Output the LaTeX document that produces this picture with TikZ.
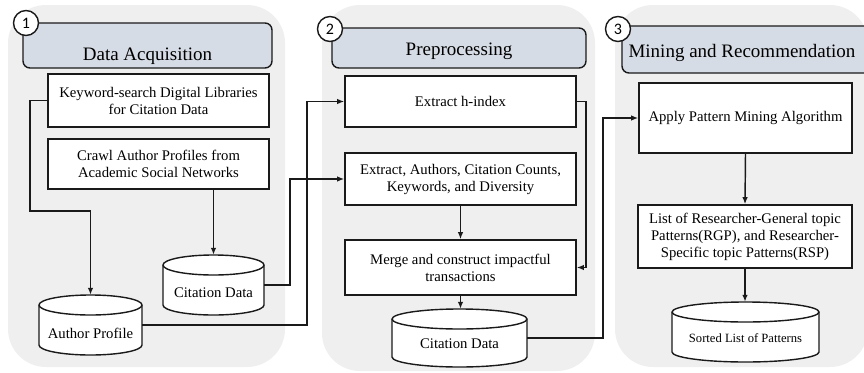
\documentclass[tikz,border=0pt]{standalone}
\usepackage{fontspec}
\setmainfont{Liberation Serif}
\newfontfamily\numfont{Carlito}
\usetikzlibrary{arrows.meta}
\definecolor{panelgray}{HTML}{EFEFEF}
\definecolor{headfill}{HTML}{D6DCE5}
\definecolor{edgecol}{HTML}{1A1A1A}
\newcommand{\dbcyl}[5]{% name, x1, x2, ytop, ybot
  \pgfmathsetmacro{\cylrx}{(#3-#2)/2}%
  \pgfmathsetmacro{\cylw}{#3-#2}%
  \pgfmathsetmacro{\cylh}{#5-#4}%
  \path[cylline] (#2,#4+10) -- (#2,#5-10) arc[start angle=180,end angle=360,x radius=\cylrx pt,y radius=10pt] -- (#3,#4+10) arc[start angle=0,end angle=180,x radius=\cylrx pt,y radius=10pt] -- cycle;
  \draw[draw=edgecol,line width=1.4pt] (#2,#4+10) arc[start angle=180,end angle=360,x radius=\cylrx pt,y radius=10pt];
  \node[inner sep=0pt,minimum width=\cylw pt,minimum height=\cylh pt] (#1) at ({(#2+#3)/2},{(#4+#5)/2}) {};
}
\begin{document}
\begin{tikzpicture}[x=1pt,y=-1pt,
  panel/.style={fill=panelgray,draw=none,rounded corners=38pt},
  header/.style={fill=headfill,draw=edgecol,line width=1.4pt,rounded corners=7pt},
  numcirc/.style={circle,fill=white,draw=edgecol,line width=1.4pt,minimum size=25pt,inner sep=0pt,font=\numfont\fontsize{16}{16}\selectfont},
  titletext/.style={font=\fontsize{19}{22}\selectfont,anchor=base,inner sep=0pt},
  procbox/.style={draw=edgecol,fill=white,line width=1.6pt,inner sep=0pt,font=\fontsize{14.7}{17}\selectfont,align=center},
  cylline/.style={draw=edgecol,fill=white,line width=1.4pt},
  cyltext/.style={font=\fontsize{14.7}{17}\selectfont,inner sep=0pt},
  conn/.style={draw=edgecol,line width=1.45pt,-{Latex[length=7pt,width=5.5pt]}},
]
\useasboundingbox (0,0) rectangle (864,372);
\clip (0,0) rectangle (864,372);

% panels
\path[panel] (8,5) rectangle (285,367);
\path[panel] (322,5) rectangle (595,371);
\path[panel] (615,5) rectangle (868,367);

% headers
\path[header] (23,23) rectangle (272,68);
\path[header] (332,28) rectangle (586,68);
\path[header] (622,26) rectangle (890,73);
\node[titletext] (t1) at (147.5,60) {Data Acquisition};
\node[titletext] (t2) at (459,55) {Preprocessing};
\node[titletext] (t3) at (742,57) {Mining and Recommendation};
\node[numcirc] (n1) at (26,23) {1};
\node[numcirc] (n2) at (330,29) {2};
\node[numcirc] (n3) at (618,29) {3};

% panel 1
\node[procbox,minimum width=221pt,minimum height=53pt] (A) at (158.5,100.5) {Keyword-search Digital Libraries\\for Citation Data};
\node[procbox,minimum width=221pt,minimum height=50pt] (B) at (158.5,164) {Crawl Author Profiles from\\Academic Social Networks};
\dbcyl{cylA}{163}{264}{255}{315}
\node[cyltext] (cylAt) at (213.5,293) {Citation Data};
\dbcyl{cylB}{39}{142}{295}{355}
\node[cyltext] (cylBt) at (90.5,333) {Author Profile};

% panel 2
\node[procbox,minimum width=231pt,minimum height=51pt] (C) at (460.5,101.5) {Extract h-index};
\node[procbox,minimum width=231pt,minimum height=52pt] (D) at (460.5,179) {Extract, Authors, Citation Counts,\\Keywords, and Diversity};
\node[procbox,minimum width=231pt,minimum height=55pt] (E) at (460.5,267.5) {Merge and construct impactful\\transactions};
\dbcyl{cylC}{392}{527}{309}{367}
\node[cyltext] (cylCt) at (459.5,344) {Citation Data};

% panel 3
\node[procbox,minimum width=213pt,minimum height=70pt] (F) at (745.5,118) {Apply Pattern Mining Algorithm};
\node[procbox,minimum width=214pt,minimum height=63pt] (G) at (745,236.5) {List of Researcher-General topic\\Patterns(RGP), and Researcher-\\Specific topic Patterns(RSP)};
\dbcyl{cylD}{672}{819}{302}{362}
\node[cyltext,font=\fontsize{12.6}{15}\selectfont] (cylDt) at (745.5,338) {Sorted List of Patterns};

% connectors
\draw[conn] (A.west) -| (30,211) -| (cylB.north);
\draw[conn] (B.south -| cylA.north) -- (cylA.north);
\draw[conn] (cylA.east) -- ++(26,0) |- (D.west);
\draw[conn] (cylB.east) -- ++(165,0) |- (C.west);
\draw[conn] (D.south) -- (E.north);
\draw[conn] (E.south) -- (E.south |- cylC.north);
\draw[conn] (C.east) -- ++(9,0) |- (E.east);
\draw[conn] (cylC.east) -- ++(76,0) |- (F.west);
\draw[conn] (F.south) -- (G.north);
\draw[conn] (G.south) -- (G.south |- cylD.north);
\end{tikzpicture}
\end{document}
